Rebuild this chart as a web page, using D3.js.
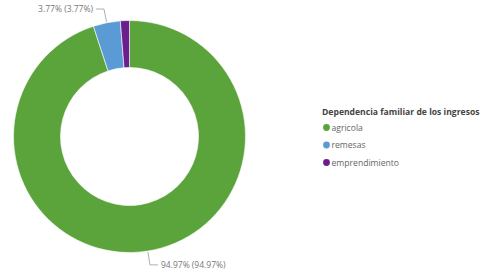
<!DOCTYPE html>
<html>
<head>
<meta charset="utf-8">
<script src="https://cdn.jsdelivr.net/npm/d3@7"></script>
<style>
body{margin:0;background:#fff;}
text{font-family:"Open Sans","Noto Sans",sans-serif;}
</style>
</head>
<body>
<script>
// datos del grafico
var categorias=["agricola","remesas","emprendimiento"];
var valores=[94.97,3.77,1.26];
var colores=["#5ba33b","#5b9bd5","#6b1f8c"];
var etiquetas=["94.97% (94.97%)","3.77% (3.77%)",""];
var tituloLeyenda="Dependencia familiar de los ingresos";

var W=483,H=277;
var cx=129.5,cy=136.5,rOut=116,rIn=69;

var svg=d3.select("body").append("svg")
.attr("width",W)
.attr("height",H);

var pie=d3.pie().sort(null).value(function(d){return d;});
var arcos=pie(valores);
var arc=d3.arc().innerRadius(rIn).outerRadius(rOut);

var g=svg.append("g").attr("transform","translate("+cx+","+cy+")");

g.selectAll("path.slice").data(arcos).enter().append("path")
.attr("class","slice")
.attr("d",arc)
.attr("fill",function(d,i){return colores[i];})
.attr("stroke","#fff")
.attr("stroke-width",0.6);

// etiquetas con lineas guia
function punto(a,r){return [r*Math.sin(a),-r*Math.cos(a)];}
arcos.forEach(function(d,i){
	if(!etiquetas[i])return;
	var mid=(d.startAngle+d.endAngle)/2;
	var p1=punto(mid,rOut+1);
	var p2=punto(mid,rOut+14);
	var dir=Math.sin(mid)>=0?1:-1;
	var p3=[p2[0]+dir*8,p2[1]];
	g.append("polyline")
	.attr("points",[p1,p2,p3].map(function(p){return p.join(",");}).join(" "))
	.attr("fill","none")
	.attr("stroke","#999")
	.attr("stroke-width",0.8);
	g.append("text")
	.attr("x",p3[0]+dir*3)
	.attr("y",p3[1])
	.attr("dy","0.35em")
	.attr("text-anchor",dir>0?"start":"end")
	.attr("font-size",8.5)
	.attr("fill","#777")
	.text(etiquetas[i]);
});

// leyenda
var ley=svg.append("g").attr("transform","translate(322,112)");
ley.append("text")
.attr("x",0).attr("y",0)
.attr("dy","0.35em")
.attr("font-size",8.6)
.attr("font-weight","bold")
.attr("fill","#444")
.text(tituloLeyenda);

var yLey=d3.scalePoint().domain(categorias).range([15.5,50.5]);
var items=ley.selectAll("g.item").data(categorias).enter().append("g")
.attr("class","item")
.attr("transform",function(d){return "translate(0,"+yLey(d)+")";});
items.append("circle")
.attr("cx",4.5).attr("cy",0).attr("r",3.4)
.attr("fill",function(d,i){return colores[i];});
items.append("text")
.attr("x",9.5).attr("y",0)
.attr("dy","0.35em")
.attr("font-size",8.6)
.attr("fill","#666")
.text(function(d){return d;});
</script>
</body>
</html>
